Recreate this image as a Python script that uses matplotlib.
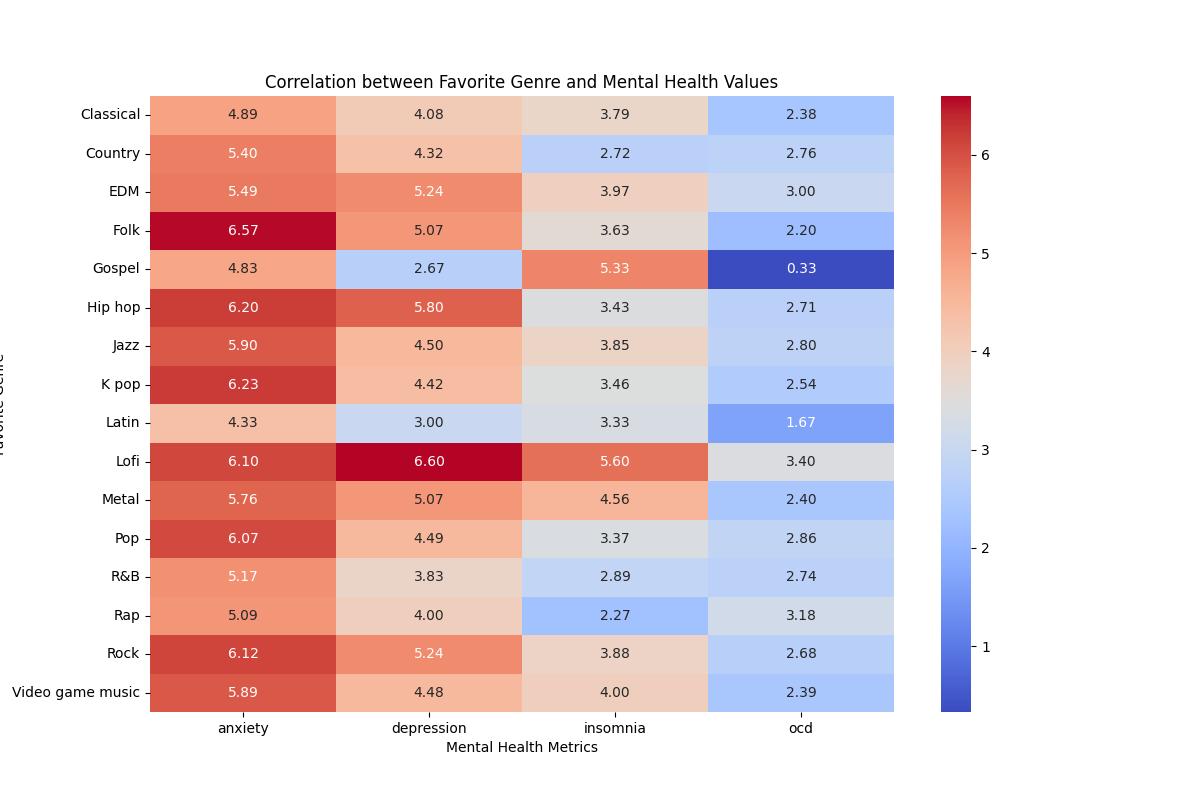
import numpy as np
import pandas as pd
import matplotlib
matplotlib.use("Agg")
import matplotlib.pyplot as plt
import seaborn as sns

genres = ["Classical", "Country", "EDM", "Folk", "Gospel", "Hip hop", "Jazz", "K pop",
          "Latin", "Lofi", "Metal", "Pop", "R&B", "Rap", "Rock", "Video game music"]
metrics = ["anxiety", "depression", "insomnia", "ocd"]

anxiety = [4.89, 5.40, 5.49, 6.57, 4.83, 6.20, 5.90, 6.23, 4.33, 6.10, 5.76, 6.07, 5.17, 5.09, 6.12, 5.89]
depression = [4.08, 4.32, 5.24, 5.07, 2.67, 5.80, 4.50, 4.42, 3.00, 6.60, 5.07, 4.49, 3.83, 4.00, 5.24, 4.48]
insomnia = [3.79, 2.72, 3.97, 3.63, 5.33, 3.43, 3.85, 3.46, 3.33, 5.60, 4.56, 3.37, 2.89, 2.27, 3.88, 4.00]
ocd = [2.38, 2.76, 3.00, 2.20, 0.33, 2.71, 2.80, 2.54, 1.67, 3.40, 2.40, 2.86, 2.74, 3.18, 2.68, 2.39]

df = pd.DataFrame({"anxiety": anxiety, "depression": depression,
                   "insomnia": insomnia, "ocd": ocd}, index=genres)

plt.figure(figsize=(12, 8))
sns.heatmap(df[metrics], annot=True, fmt=".2f", cmap="coolwarm")
plt.title("Correlation between Favorite Genre and Mental Health Values")
plt.xlabel("Mental Health Metrics")
plt.ylabel("Favorite Genre")
plt.savefig("out.png", dpi=100)
